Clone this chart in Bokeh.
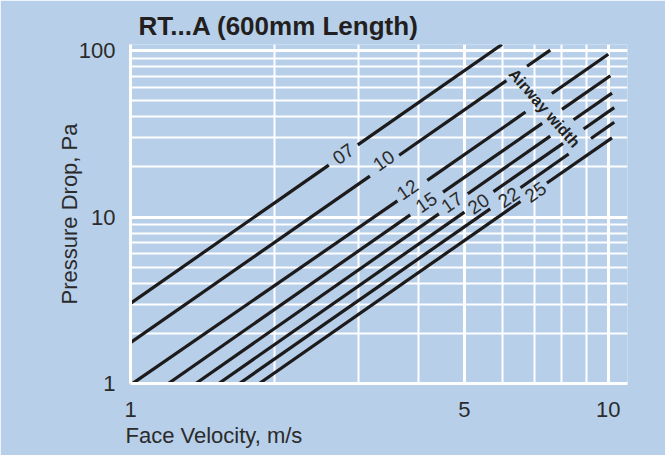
from bokeh.plotting import figure
from bokeh.models import ColumnDataSource, Range1d, FixedTicker, Title
from bokeh.core.properties import value
from bokeh.embed import file_html
from bokeh.resources import INLINE

# ---- data ----
title_text = "RT...A (600mm Length)"
x_title = "Face Velocity, m/s"
y_title = "Pressure Drop, Pa"

x_major = [1, 5, 10]
x_minor = [2, 3, 4, 6, 7, 8, 9]
y_major = [1, 10, 100]
y_minor = [2, 3, 4, 5, 6, 7, 8, 9, 20, 30, 40, 50, 60, 70, 80, 90]

# line segments (velocity m/s, pressure Pa); gaps are where the labels sit
seg_airway = ["07", "07",
              "10", "10", "10",
              "12", "12", "12",
              "15", "15", "15",
              "17", "17", "17",
              "20", "20", "20",
              "22", "22", "22",
              "25", "25"]
seg_v_start = [1.00, 2.99,
               1.00, 3.65, 6.76,
               1.00, 4.18, 7.62,
               1.20, 4.51, 8.00,
               1.37, 5.08, 8.46,
               1.53, 5.75, 8.88,
               1.69, 6.55, 9.20,
               1.86, 7.44]
seg_p_start = [3.03, 27.1,
               1.76, 23.5, 80.4,
               0.98, 16.6, 55.2,
               1.00, 14.1, 44.3,
               1.00, 13.8, 38.4,
               1.00, 14.2, 33.8,
               1.00, 15.0, 29.6,
               1.00, 16.0]
seg_v_end = [2.60, 5.99,
             3.17, 6.12, 7.56,
             3.62, 6.71, 10.0,
             3.85, 7.27, 10.1,
             4.42, 7.56, 10.18,
             5.00, 8.04, 10.29,
             5.66, 8.26, 10.29,
             6.55, 10.18]
seg_p_end = [20.5, 108.7,
             17.6, 65.9, 100.6,
             12.5, 42.7, 95.0,
             10.3, 36.5, 70.6,
             10.45, 30.6, 55.5,
             10.7, 27.7, 45.4,
             11.2, 23.9, 37.1,
             12.4, 29.9]

label_text = ["07", "10", "12", "15", "17", "20", "22", "25"]
label_v = [2.79, 3.39, 3.80, 4.16, 4.71, 5.35, 6.19, 7.04]
label_p = [23.9, 21.8, 14.6, 12.25, 12.25, 11.98, 13.1, 14.1]

note_text = ["Airway width"]
note_v = [7.35]
note_p = [45.1]

# ---- styling ----
BG = "#b7cfe9"
INK = "#231f20"
FONT = "Liberation Sans"

p = figure(width=665, height=455, output_backend="svg", toolbar_location=None,
           x_axis_type="log", y_axis_type="log",
           x_range=Range1d(1, 10.97), y_range=Range1d(1, 108.7),
           min_border_left=130, min_border_right=38,
           min_border_top=44, min_border_bottom=72)
p.background_fill_color = BG
p.border_fill_color = BG
p.outline_line_color = None

p.add_layout(Title(text=title_text, align="left", offset=8,
                   text_font=FONT, text_font_size="26px", text_font_style="bold",
                   text_color=INK, standoff=8), "above")
p.add_layout(Title(text=x_title, align="left", offset=-5,
                   text_font=FONT, text_font_size="22px", text_font_style="normal",
                   text_color="#2b2b2b", standoff=2), "below")

p.xaxis.ticker = FixedTicker(ticks=x_major, minor_ticks=x_minor)
p.yaxis.ticker = FixedTicker(ticks=y_major, minor_ticks=y_minor)
p.xaxis.major_label_overrides = {v: str(v) for v in x_major}
p.yaxis.major_label_overrides = {v: str(v) for v in y_major}
for ax in (p.xaxis, p.yaxis):
    ax.major_tick_line_color = None
    ax.minor_tick_line_color = None
    ax.axis_line_color = "white"
    ax.axis_line_width = 3
    ax.major_label_text_font = FONT
    ax.major_label_text_font_size = "22px"
    ax.major_label_text_color = "#2b2b2b"
p.xaxis.major_label_standoff = 12
p.yaxis.major_label_standoff = 9
p.yaxis.axis_label = y_title
p.yaxis.axis_label_text_font = FONT
p.yaxis.axis_label_text_font_size = "22px"
p.yaxis.axis_label_text_font_style = "normal"
p.yaxis.axis_label_text_color = "#2b2b2b"
p.yaxis.axis_label_standoff = -6

for g in (p.xgrid, p.ygrid):
    g.grid_line_color = "white"
    g.grid_line_width = 3
    g.minor_grid_line_color = "white"
    g.minor_grid_line_width = 2

src = ColumnDataSource(dict(x0=seg_v_start, y0=seg_p_start, x1=seg_v_end, y1=seg_p_end,
                            airway=seg_airway))
p.segment(x0="x0", y0="y0", x1="x1", y1="y1", source=src,
          line_color="#1c1a1a", line_width=3.2)

lab = ColumnDataSource(dict(x=label_v, y=label_p, text=label_text))
p.text(x="x", y="y", text="text", source=lab, angle=0.607,
       text_font=value(FONT), text_font_size="19px", text_color="#2b2b2b",
       text_align="center", text_baseline="middle")

note = ColumnDataSource(dict(x=note_v, y=note_p, text=note_text))
p.text(x="x", y="y", text="text", source=note, angle=-0.85,
       text_font=value(FONT), text_font_size="16px", text_font_style="bold",
       text_color=INK, text_align="center", text_baseline="middle")

open("out.html", "w").write(file_html(p, INLINE))
